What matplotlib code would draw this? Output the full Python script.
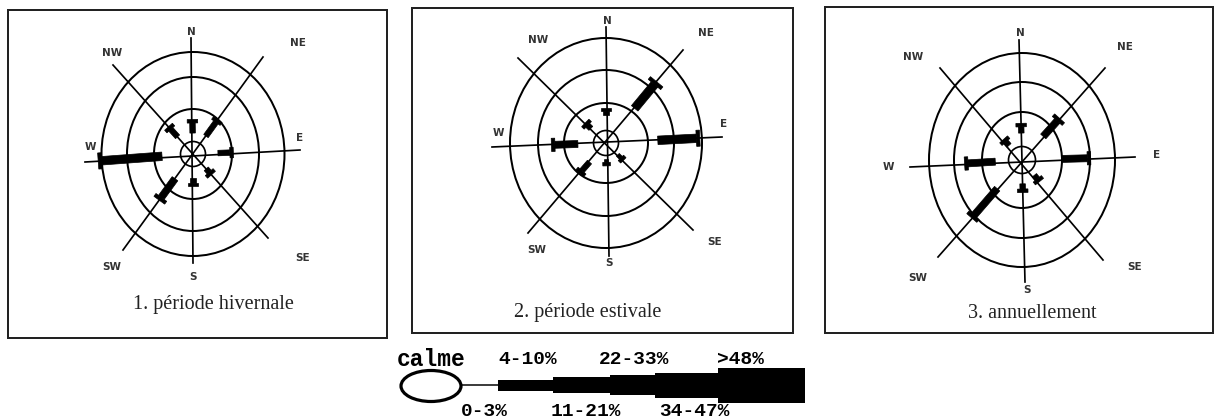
import numpy as np
import matplotlib.pyplot as plt
from matplotlib.patches import Ellipse, Rectangle, Polygon

# --- données : fréquences des vents (%) par direction ---
directions = ['N', 'NE', 'E', 'SE', 'S', 'SW', 'W', 'NW']
titres = ['1. période hivernale', '2. période estivale', '3. annuellement']

# début et fin de la barre épaisse (en %, 10 % = un cercle)
hiver_debut = [2.6, 3.2, 4.7, 2.5, 3.5, 6.0, 7.0, 3.6]
hiver_fin = [5.7, 8.8, 9.2, 4.0, 5.0, 13.7, 30.0, 7.0]
ete_debut = [5.5, 11.4, 13.8, 1.5, 1.5, 4.5, 5.3, 3.0]
ete_fin = [7.0, 21.7, 28.0, 3.0, 2.5, 8.5, 13.5, 4.5]
annuel_debut = [3.9, 6.0, 10.0, 2.0, 3.0, 8.0, 5.0, 2.0]
annuel_fin = [5.7, 13.0, 19.0, 3.5, 4.5, 20.0, 15.0, 3.5]

classes = ['0-3%', '4-10%', '11-21%', '22-33%', '34-47%', '>48%']
bornes_classes = [3, 10, 21, 33, 47]

# --- mise en page (pixels) ---
W, H = 1218, 418
panneaux = [
    dict(box=(8, 10, 387, 338), c=(193, 154), calme=12.5,
         rx=[39, 66, 91.5], ry=[45, 77, 102], titre=(213, 305),
         ext={'N': (191, 38), 'S': (193, 263), 'E': (300, 150), 'W': (85, 162),
              'NE': (263, 57), 'SW': (123, 250), 'NW': (113, 65), 'SE': (268, 238)},
         lab={'N': (191, 32), 'S': (193, 277), 'E': (300, 138), 'W': (90, 147),
              'NE': (298, 43), 'NW': (112, 53), 'SW': (112, 267), 'SE': (303, 258)}),
    dict(box=(412, 8, 793, 333), c=(606, 143), calme=12.5,
         rx=[42, 68, 96], ry=[40, 73, 105], titre=(588, 313),
         ext={'N': (606, 27), 'S': (609, 256), 'E': (722, 137), 'W': (492, 147),
              'NE': (683, 50), 'SW': (528, 233), 'NW': (518, 58), 'SE': (693, 230)},
         lab={'N': (607, 21), 'S': (609, 263), 'E': (724, 124), 'W': (498, 133),
              'NE': (706, 33), 'NW': (538, 40), 'SW': (537, 250), 'SE': (715, 242)}),
    dict(box=(825, 7, 1213, 333), c=(1022, 160), calme=13.5,
         rx=[40, 68, 93], ry=[48, 78, 107], titre=(1032, 313),
         ext={'N': (1019, 40), 'S': (1025, 282), 'E': (1135, 157), 'W': (910, 167),
              'NE': (1105, 68), 'SW': (938, 257), 'NW': (940, 68), 'SE': (1103, 260)},
         lab={'N': (1020, 33), 'S': (1027, 290), 'E': (1157, 155), 'W': (888, 167),
              'NE': (1125, 47), 'NW': (913, 57), 'SW': (918, 278), 'SE': (1135, 267)}),
]
donnees = [(hiver_debut, hiver_fin), (ete_debut, ete_fin), (annuel_debut, annuel_fin)]
largeurs = [4.0, 5.5, 7.0, 8.5, 10.0, 13.0]


def pt(px):
    return px * 72 / 100


def rayon(p, vx, vy, u):
    # rayon (px) le long de la direction pour u cercles
    a = np.arctan2(-vy, vx)
    rs = [p['calme']]
    for rx, ry in zip(p['rx'], p['ry']):
        rs.append(1 / np.sqrt((np.cos(a) / rx) ** 2 + (np.sin(a) / ry) ** 2))
    if u <= 3:
        return np.interp(u, [0, 1, 2, 3], rs)
    return rs[3] + (u - 3) * (rs[3] - rs[2])


fig = plt.figure(figsize=(W / 100, H / 100), dpi=100)
ax = fig.add_axes([0, 0, 1, 1])
ax.set_xlim(0, W)
ax.set_ylim(H, 0)
ax.axis('off')

for p, titre, (debut, fin) in zip(panneaux, titres, donnees):
    x0, y0, x1, y1 = p['box']
    ax.add_patch(Rectangle((x0, y0), x1 - x0, y1 - y0, fill=False, lw=pt(2), ec='#222'))
    cx, cy = p['c']
    ax.add_patch(Ellipse((cx, cy), 2 * p['calme'], 2 * p['calme'], fill=False, lw=pt(1.7), ec='k'))
    for rx, ry in zip(p['rx'], p['ry']):
        ax.add_patch(Ellipse((cx, cy), 2 * rx, 2 * ry, fill=False, lw=pt(2.0), ec='k'))
    for a, b in [('N', 'S'), ('NE', 'SW'), ('E', 'W'), ('SE', 'NW')]:
        (xa, ya), (xb, yb) = p['ext'][a], p['ext'][b]
        ax.plot([xa, xb], [ya, yb], color='k', lw=pt(1.7))
    for d, (lx, ly) in p['lab'].items():
        ax.text(lx, ly, d, fontsize=7.5, color='#333', ha='center', va='center',
                fontweight='bold')
    ax.text(*p['titre'], titre, fontsize=14.5, family='Liberation Serif',
            ha='center', va='center', color='#222')

    # barres des vents
    for d, v0, v1 in zip(directions, debut, fin):
        ex, ey = p['ext'][d]
        vx, vy = ex - cx, ey - cy
        n = np.hypot(vx, vy)
        ux, uy = vx / n, vy / n
        nx, ny = -uy, ux
        r0 = rayon(p, vx, vy, v0 / 10)
        r1 = rayon(p, vx, vy, v1 / 10)
        w = largeurs[int(np.searchsorted(bornes_classes, v1))] / 2
        pa = (cx + ux * r0, cy + uy * r0)
        pb = (cx + ux * r1, cy + uy * r1)
        ax.add_patch(Polygon([(pa[0] + nx * w, pa[1] + ny * w), (pb[0] + nx * w, pb[1] + ny * w),
                              (pb[0] - nx * w, pb[1] - ny * w), (pa[0] - nx * w, pa[1] - ny * w)],
                             closed=True, fc='k', ec='k', lw=0.5))
        wc = 1.9 * w
        t = 3.5
        ax.add_patch(Polygon([(pb[0] + nx * wc, pb[1] + ny * wc),
                              (pb[0] + nx * wc + ux * t, pb[1] + ny * wc + uy * t),
                              (pb[0] - nx * wc + ux * t, pb[1] - ny * wc + uy * t),
                              (pb[0] - nx * wc, pb[1] - ny * wc)],
                             closed=True, fc='k', ec='k', lw=0.5))

# --- légende ---
ax.add_patch(Ellipse((431, 386), 60, 31, fill=False, lw=pt(3.2), ec='k'))
ax.plot([462, 498], [385, 385], color='k', lw=pt(1.5))
seg_x = [498, 553, 610, 655, 718, 805]
seg_h = [11, 16, 20, 25, 35]
for i in range(5):
    ax.add_patch(Rectangle((seg_x[i], 385 - seg_h[i] / 2), seg_x[i + 1] - seg_x[i], seg_h[i],
                           fc='k', ec='k', lw=0))
fl = dict(family='Liberation Mono', fontweight='bold', ha='center', va='center', color='k')
ax.text(431, 360, 'calme', fontsize=16.5, **fl)
haut = [(528, classes[1]), (634, classes[3]), (741, classes[5])]
bas = [(484, classes[0]), (586, classes[2]), (694, classes[4])]
for x, s in haut:
    ax.text(x, 360, s, fontsize=14, **fl)
for x, s in bas:
    ax.text(x, 411, s, fontsize=14, **fl)

fig.savefig('out.png', dpi=100)
